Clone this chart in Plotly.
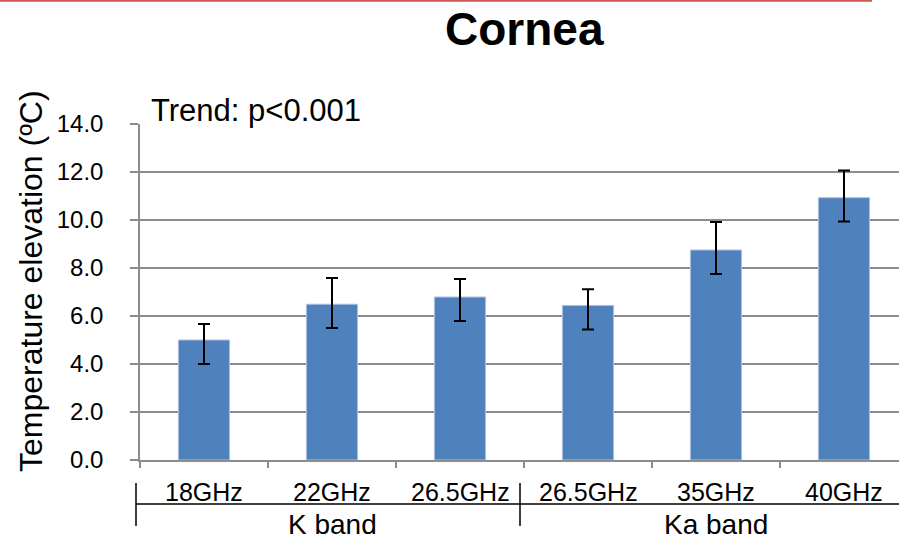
import plotly.graph_objects as go

categories = ["18GHz", "22GHz", "26.5GHz", "26.5GHz ", "35GHz", "40GHz"]
tick_labels = ["18GHz", "22GHz", "26.5GHz", "26.5GHz", "35GHz", "40GHz"]
values = [5.0, 6.49, 6.79, 6.44, 8.75, 10.93]
err_plus = [0.67, 1.09, 0.75, 0.67, 1.17, 1.13]
err_minus = [1.0, 0.99, 1.0, 1.0, 1.0, 0.99]
groups = ["K band", "Ka band"]
group_sizes = [3, 3]
y_ticks = [0, 2, 4, 6, 8, 10, 12, 14]

W, H = 899, 542
ML, MR, MT, MB = 140, 0, 124, 82
plot_w = W - ML - MR
plot_h = H - MT - MB
cat_px = 128.0
x0 = -0.5
x1 = x0 + plot_w / cat_px

def px_to_px_paper(px):
    return (px - ML) / plot_w

def py_to_paper(py):
    return (H - MB - py) / plot_h

def data_x_to_paper(x):
    return (x - x0) / (x1 - x0)

FONT = "Arial, Liberation Sans, sans-serif"
GRID = "#8c8c8c"

fig = go.Figure()
fig.add_trace(go.Bar(
    x=list(range(len(values))),
    y=values,
    marker=dict(color="#4f81bd", line=dict(color="#a9c1e2", width=1)),
    error_y=dict(type="data", symmetric=False, array=err_plus, arrayminus=err_minus,
                 color="black", thickness=2, width=6),
    width=0.4,
))

annotations = []
# title
annotations.append(dict(text="<b>Cornea</b>", x=2.5, xref="x", y=py_to_paper(29), yref="paper",
                        xanchor="center", yanchor="middle", showarrow=False,
                        font=dict(family=FONT, size=46, color="black")))
# trend
annotations.append(dict(text="Trend: p<0.001", x=px_to_px_paper(149), xref="paper",
                        y=py_to_paper(111), yref="paper", xanchor="left", yanchor="middle",
                        showarrow=False, font=dict(family=FONT, size=31, color="black")))
# y title
annotations.append(dict(text="Temperature elevation (ºC)", x=px_to_px_paper(31), xref="paper",
                        y=py_to_paper(281), yref="paper", xanchor="center", yanchor="middle",
                        textangle=-90, showarrow=False,
                        font=dict(family=FONT, size=32, color="black")))
# x tick labels
for i, lab in enumerate(tick_labels):
    annotations.append(dict(text=lab, x=i, xref="x", y=py_to_paper(492), yref="paper",
                            xanchor="center", yanchor="middle", showarrow=False,
                            font=dict(family=FONT, size=25, color="black")))
# group labels
start = 0
shapes = []
bounds = [-0.5]
for g, n in zip(groups, group_sizes):
    center = start + (n - 1) / 2
    annotations.append(dict(text=g, x=center, xref="x", y=py_to_paper(524.5), yref="paper",
                            xanchor="center", yanchor="middle", showarrow=False,
                            font=dict(family=FONT, size=28, color="black")))
    start += n
    bounds.append(start - 0.5)

sep_top, sep_bot, hline_y = py_to_paper(483), py_to_paper(526), py_to_paper(504)
for b in bounds[:-1]:
    xp = data_x_to_paper(b) - 4 / plot_w
    shapes.append(dict(type="line", xref="paper", yref="paper", x0=xp, x1=xp,
                       y0=sep_top, y1=sep_bot, line=dict(color="black", width=1.5)))
shapes.append(dict(type="line", xref="paper", yref="paper",
                   x0=data_x_to_paper(bounds[0]) - 4 / plot_w, x1=1.0,
                   y0=hline_y, y1=hline_y, line=dict(color="black", width=1.5)))
# red line at top
shapes.append(dict(type="line", xref="paper", yref="paper",
                   x0=px_to_px_paper(0), x1=px_to_px_paper(872),
                   y0=py_to_paper(0.8), y1=py_to_paper(0.8),
                   line=dict(color="#cd5c58", width=2)))

fig.update_layout(
    width=W, height=H,
    margin=dict(l=ML, r=MR, t=MT, b=MB, autoexpand=False),
    paper_bgcolor="white", plot_bgcolor="white",
    showlegend=False,
    bargap=0.6,
    annotations=annotations,
    shapes=shapes,
    xaxis=dict(type="linear", range=[x0, x1], tickvals=[i - 0.5 for i in range(len(values) + 1)],
               ticktext=["" for _ in range(len(values) + 1)],
               ticks="outside", ticklen=6, tickcolor=GRID, tickwidth=1.5,
               showgrid=False, showline=True, linecolor=GRID, linewidth=1.5,
               zeroline=False, fixedrange=True),
    yaxis=dict(range=[0, 14], tickvals=y_ticks, tickformat=".1f",
               ticks="outside", ticklen=8, tickcolor=GRID, tickwidth=1.5,
               showgrid=True, gridcolor=GRID, gridwidth=1.5,
               showline=True, linecolor=GRID, linewidth=1.5, zeroline=False,
               tickfont=dict(family=FONT, size=24, color="black"),
               ticklabelstandoff=22),
)

fig.write_html("out.html", config={"displayModeBar": False},
               post_script="document.body.style.margin='0';document.body.style.overflow='hidden';")
